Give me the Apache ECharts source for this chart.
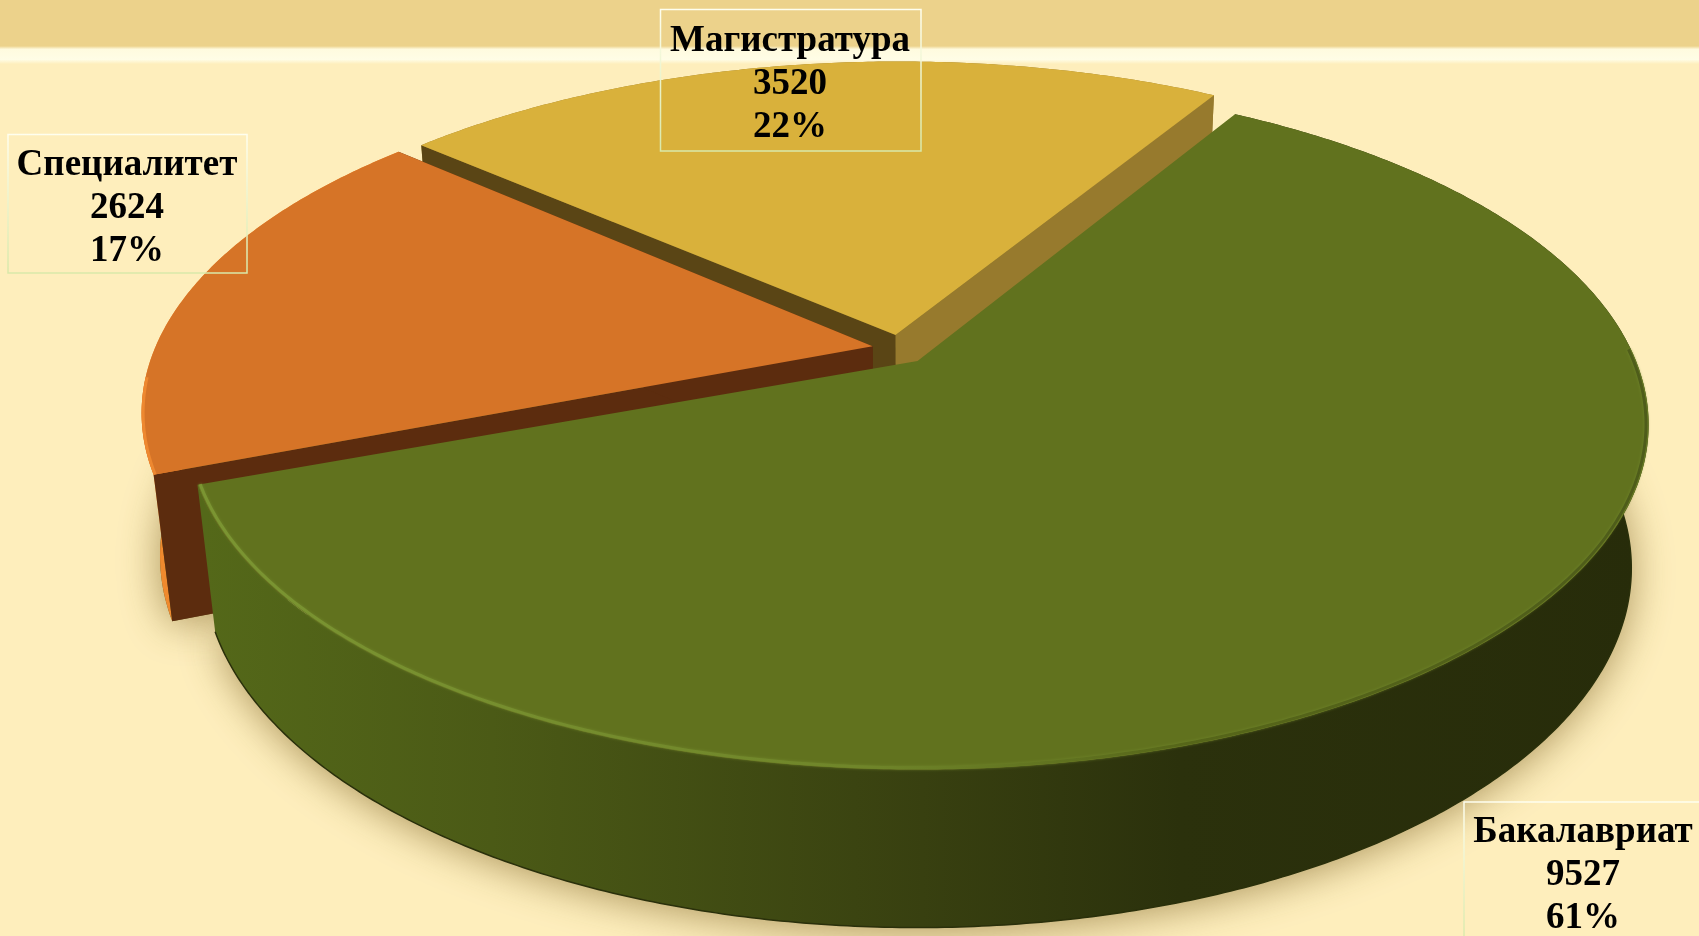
<!DOCTYPE html>
<html lang="ru">
<head>
<meta charset="utf-8">
<title>Контингент студентов</title>
<script src="https://cdn.jsdelivr.net/npm/echarts@6/dist/echarts.min.js"></script>
<style>html,body{margin:0;padding:0;background:#FEEEBC;overflow:hidden}#chart{width:1699px;height:936px}</style>
</head>
<body>
<div id="chart"></div>
<script>
// --- data (clockwise from the start angle)
const categories = ['Бакалавриат', 'Специалитет', 'Магистратура'];
const values = [9527, 2624, 3520];
const percents = [61, 17, 22];

// --- look and layout
const startAngle = 30.8;
const explode = [[0, 0], [-0.063, -0.045], [-0.031, -0.079]];
const sliceRadius = [1, 1.006, 1];
const viewNudgeStart = [0, -1, 1.15];
const viewNudgeEnd = [0, 1.5, 0.2];
const paintOrder = [2, 1, 0];
const topColors = ['#61721E', '#D67427', '#D9B13B'];
const startWall = [null, '#5C2C0E', '#5A4515'];
const endWall = [null, '#5C2C0E', '#977A2D'];
const boxes = [
  { x: 1464, y: 802, w: 240, h: 142, cx: 1583, cy: 875 },
  { x: 8, y: 134.5, w: 239, h: 138.5, cx: 127, cy: 208 },
  { x: 660.5, y: 9.5, w: 260.5, h: 141.5, cx: 790, cy: 84 }
];
const greenWall = {
  type: 'linear', x: 205, y: 0, x2: 1640, y2: 0, global: true,
  colorStops: [
    { offset: 0, color: '#546819' }, { offset: 0.2, color: '#4B5A16' },
    { offset: 0.5, color: '#384010' }, { offset: 0.68, color: '#2B310C' },
    { offset: 1, color: '#272C0A' }
  ]
};
const arcWalls = [greenWall, '#EF8A2E', '#977A2D'];

// projection of the pie plane
const P = { x0: 917.5, y0: 361, a: 718.5, b: 333, k: 0.185 };
function project(X, Y) {
  const w = 1 - P.k * Y;
  return [P.x0 + P.a * X / w, P.y0 + P.b * Y / w];
}
function drop(p) {
  const h = 147 + (p[1] - 485) * 0.0386;
  return [p[0] + (920 - p[0]) * h / (6500 - p[1]), p[1] + h];
}
const total = values.reduce((s, v) => s + v, 0);
const starts = [];
values.reduce((acc, v, i) => { starts[i] = acc; return acc + v / total * 360; }, startAngle);

function arcPoints(i, from, to, r) {
  const pts = [], n = Math.ceil(Math.abs(to - from) * 2);
  for (let j = 0; j <= n; j++) {
    const t = (from + (to - from) * j / n) * Math.PI / 180;
    pts.push(project(explode[i][0] + r * Math.sin(t), explode[i][1] - r * Math.cos(t)));
  }
  return pts;
}
function poly(points, style, z2) {
  return { type: 'polygon', shape: { points }, style, z2, silent: true };
}
function line(points, stroke, width, z2, blur) {
  return {
    type: 'polyline', shape: { points }, silent: true, z2,
    style: { fill: null, stroke, lineWidth: width, shadowBlur: blur || 0, shadowColor: stroke.colorStops ? stroke.colorStops[1].color : stroke }
  };
}

function renderSlice(params, api) {
  const i = params.dataIndex;
  const span = api.value(0) / total * 360;
  const s = starts[i] + viewNudgeStart[i], e = starts[i] + span + viewNudgeEnd[i];
  const arc = arcPoints(i, s, e, sliceRadius[i]);
  const apex = project(explode[i][0], explode[i][1]);
  const base = 10 + paintOrder[i] * 10;
  const first = arc[0], last = arc[arc.length - 1];
  const children = [];
  // soft ground shadow
  children.push(poly([drop(apex)].concat(arc.map(drop)), {
    fill: '#6A5A20', shadowBlur: 42, shadowColor: 'rgba(120,92,30,0.62)', shadowOffsetY: 4
  }, 1 + i));
  // walls
  children.push(poly(arc.concat(arc.map(drop).reverse()), { fill: arcWalls[i] }, base));
  if (startWall[i]) children.push(poly([apex, first, drop(first), drop(apex)], { fill: startWall[i] }, base + 1));
  if (endWall[i]) children.push(poly([apex, last, drop(last), drop(apex)], { fill: endWall[i] }, base + 2));
  if (i === 0) {
    children.push(line(arc.map(drop).slice(20), '#2A300B', 1.5, base + 3));
  }
  // top
  children.push(poly([apex].concat(arc), { fill: topColors[i] }, base + 4));
  if (i === 0) {
    // bevel along the front of the rim
    const rim = arcPoints(i, 88, e, 0.9965);
    children.push(line(rim, {
      type: 'linear', x: 205, y: 0, x2: 1650, y2: 0, global: true,
      colorStops: [
        { offset: 0, color: '#7B9532' }, { offset: 0.45, color: '#70862A' },
        { offset: 0.68, color: '#566619' }, { offset: 1, color: '#4E5C1A' }
      ]
    }, 3, base + 5, 3));
  }
  if (i === 1) {
    children.push(line(arcPoints(i, s, s + 16, sliceRadius[i] - 0.002), '#EE8830', 3, base + 5));
  }
  // label
  const b = boxes[i];
  children.push({
    type: 'rect', silent: true, z2: 100,
    shape: { x: b.x, y: b.y, width: b.w, height: b.h },
    style: {
      fill: null, lineWidth: 1.5,
      stroke: {
        type: 'linear', x: 0, y: 0, x2: 0, y2: 1,
        colorStops: [{ offset: 0, color: '#FFFFF0' }, { offset: 1, color: '#D8E8A8' }]
      }
    }
  });
  children.push({
    type: 'text', silent: true, z2: 101, x: b.cx, y: b.cy,
    style: {
      text: categories[i] + '\n' + values[i] + '\n' + percents[i] + '%',
      font: 'bold 37px "Liberation Serif", "Times New Roman", serif',
      lineHeight: 43, fill: '#000000', align: 'center', verticalAlign: 'middle'
    }
  });
  return { type: 'group', children };
}

const chart = echarts.init(document.getElementById('chart'), null, { renderer: 'canvas' });
chart.setOption({
  animation: false,
  backgroundColor: '#FEEEBC',
  graphic: [
    { type: 'rect', silent: true, z: 0, shape: { x: 0, y: 0, width: 1699, height: 47 }, style: { fill: '#ECD28B' } },
    {
      type: 'rect', silent: true, z: 0, shape: { x: 0, y: 46, width: 1699, height: 18 },
      style: {
        fill: {
          type: 'linear', x: 0, y: 0, x2: 0, y2: 1,
          colorStops: [
            { offset: 0, color: '#ECD28B' }, { offset: 0.18, color: '#FFFBDF' },
            { offset: 0.75, color: '#FFFDE6' }, { offset: 1, color: '#FEEEBC' }
          ]
        }
      }
    }
  ],
  series: [{
    type: 'custom',
    coordinateSystem: 'none',
    z: 5,
    silent: true,
    renderItem: renderSlice,
    data: values.map((v, i) => ({ name: categories[i], value: [v] }))
  }]
});
</script>
</body>
</html>
